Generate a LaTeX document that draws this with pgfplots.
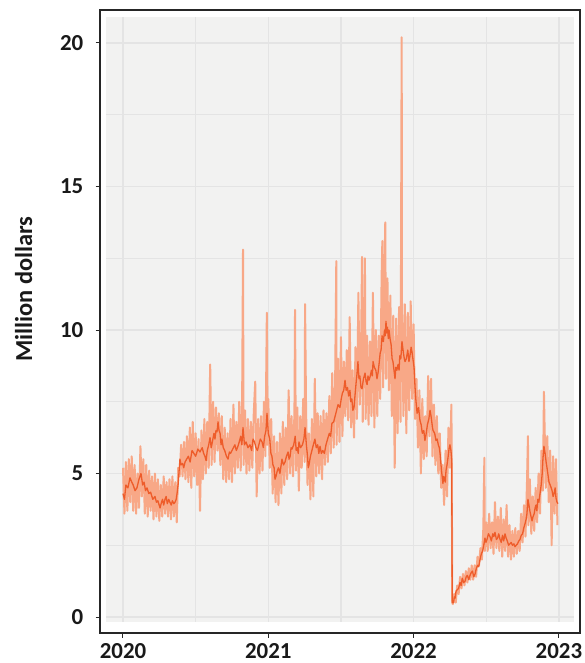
\documentclass[border=0pt]{standalone}
\usepackage{fontspec}
\setmainfont{Carlito}
\usepackage{pgfplots}
\pgfplotsset{compat=1.18}
\definecolor{band}{RGB}{248,168,135}
\definecolor{trend}{RGB}{238,92,42}
\definecolor{panel}{RGB}{242,242,241}
\definecolor{gridc}{RGB}{228,228,228}
\begin{document}
\begin{tikzpicture}
\begin{axis}[
 scale only axis, width=480bp, height=623bp,
 xmin=2019.8417, xmax=2023.1452, ymin=-0.557, ymax=21.15,
 axis line style={line width=1.1bp, black!85},
 tick align=outside, tick pos=left,
 major tick length=4.5bp,
 every tick/.style={black!85, line width=1bp},
 xtick={2020,2021,2022,2023}, xticklabels={2020,2021,2022,2023},
 ytick={0,5,10,15,20}, yticklabels={0,5,10,15,20},
 ticklabel style={font=\fontsize{23}{23}\selectfont\bfseries, text=black!90},
 xticklabel style={inner sep=0pt, yshift=-6bp},
 yticklabel style={inner sep=0pt, xshift=-12bp},
 ylabel={Million dollars},
 ylabel style={font=\fontsize{24.5}{24.5}\selectfont\bfseries, text=black!90, at={(axis description cs:-0.159,0.552)}, anchor=center},
]
\fill[panel] (axis cs:2019.883,-0.174) rectangle (axis cs:2023.104,20.906);
\pgfplotsinvokeforeach{0,2.5,5,7.5,10,12.5,15,17.5,20}{
 \draw[gridc, line width=1.2bp] (axis cs:2019.883,#1) -- (axis cs:2023.104,#1);}
\pgfplotsinvokeforeach{2020,2020.5,2021,2021.5,2022,2022.5,2023}{
 \draw[gridc, line width=1.2bp] (axis cs:#1,-0.174) -- (axis cs:#1,20.906);}
\addplot[band, line width=2bp, line join=round] coordinates {
(2020.00,5.2)(2020.01,3.6)(2020.02,5.4)(2020.03,3.7)(2020.04,5.5)(2020.05,4.0)(2020.06,5.6)(2020.07,3.7)(2020.08,5.3)(2020.09,3.6)
(2020.10,5.0)(2020.11,3.8)(2020.12,5.95)(2020.13,4.2)(2020.14,5.5)(2020.15,3.6)(2020.16,5.3)(2020.17,3.5)(2020.18,5.1)(2020.19,3.7)
(2020.20,4.9)(2020.21,3.4)(2020.22,5.0)(2020.23,3.5)(2020.24,4.8)(2020.25,3.35)(2020.26,4.6)(2020.27,3.5)(2020.28,4.9)(2020.29,3.6)
(2020.30,4.7)(2020.31,3.5)(2020.32,4.8)(2020.33,3.4)(2020.34,4.9)(2020.35,3.5)(2020.36,4.7)(2020.37,3.3)(2020.38,5.2)(2020.39,4.9)
(2020.40,6.0)(2020.41,4.9)(2020.42,6.1)(2020.43,4.8)(2020.44,6.3)(2020.45,4.7)(2020.46,6.6)(2020.47,4.5)(2020.48,6.8)(2020.49,4.9)
(2020.50,6.4)(2020.51,4.6)(2020.52,6.2)(2020.53,3.7)(2020.54,6.5)(2020.55,4.8)(2020.56,6.9)(2020.57,5.0)(2020.58,6.8)(2020.59,5.2)
(2020.60,8.8)(2020.61,5.3)(2020.62,7.5)(2020.63,5.4)(2020.64,7.3)(2020.65,5.8)(2020.66,7.1)(2020.67,5.3)(2020.68,7.0)(2020.69,4.8)
(2020.70,6.6)(2020.71,4.7)(2020.72,6.4)(2020.73,4.8)(2020.74,6.9)(2020.75,4.7)(2020.76,7.4)(2020.77,5.0)(2020.78,6.8)(2020.79,5.2)
(2020.80,7.5)(2020.81,5.1)(2020.82,7.6)(2020.826,12.8)(2020.83,5.3)(2020.84,7.2)(2020.85,5.0)(2020.86,6.9)(2020.87,5.1)(2020.88,6.8)(2020.89,5.2)
(2020.90,7.1)(2020.91,8.2)(2020.92,4.2)(2020.93,6.9)(2020.94,5.0)(2020.95,7.0)(2020.96,5.1)(2020.97,7.5)(2020.98,5.6)(2020.99,10.6)(2020.995,6.0)
(2021.00,7.6)(2021.01,5.2)(2021.02,6.9)(2021.03,4.3)(2021.04,6.3)(2021.05,4.0)(2021.06,6.1)(2021.07,3.9)(2021.08,6.4)(2021.09,4.3)
(2021.10,6.8)(2021.11,4.6)(2021.12,6.6)(2021.13,4.8)(2021.14,7.9)(2021.15,5.0)(2021.16,7.0)(2021.17,4.9)(2021.18,7.2)(2021.184,10.7)(2021.19,5.1)
(2021.20,7.3)(2021.21,4.4)(2021.22,7.0)(2021.23,5.2)(2021.24,7.6)(2021.25,5.4)(2021.253,10.9)(2021.26,7.2)(2021.27,4.6)(2021.28,6.4)(2021.29,4.1)
(2021.30,6.9)(2021.31,4.2)(2021.32,8.3)(2021.33,4.9)(2021.34,7.1)(2021.35,5.0)(2021.36,7.0)(2021.37,4.8)(2021.38,7.2)(2021.39,5.3)
(2021.40,7.1)(2021.41,5.4)(2021.42,7.7)(2021.43,5.7)(2021.44,8.5)(2021.45,5.9)(2021.46,8.2)(2021.468,12.4)(2021.47,6.0)(2021.48,9.0)(2021.49,6.1)
(2021.50,9.75)(2021.51,6.3)(2021.52,8.9)(2021.53,7.0)(2021.54,9.3)(2021.55,6.85)(2021.56,10.45)(2021.57,6.6)(2021.58,8.6)(2021.59,6.25)
(2021.60,9.4)(2021.61,6.9)(2021.62,11.3)(2021.63,7.4)(2021.64,10.0)(2021.645,12.55)(2021.65,6.8)(2021.66,10.2)(2021.665,12.5)(2021.67,6.9)(2021.68,9.8)(2021.69,6.7)
(2021.70,9.6)(2021.71,7.0)(2021.72,11.3)(2021.73,6.6)(2021.74,10.0)(2021.75,7.0)(2021.76,9.8)(2021.77,7.6)(2021.78,11.9)(2021.785,13.1)(2021.79,8.0)
(2021.80,12.2)(2021.805,13.75)(2021.81,8.3)(2021.82,11.8)(2021.83,7.9)(2021.84,11.2)(2021.85,7.0)(2021.86,10.5)(2021.87,5.2)(2021.88,10.4)(2021.89,6.4)
(2021.90,10.8)(2021.91,6.8)(2021.918,20.2)(2021.92,11.0)(2021.93,7.0)(2021.94,10.9)(2021.95,6.4)(2021.96,10.6)(2021.97,7.2)(2021.98,11.0)(2021.99,7.6)
(2022.00,10.2)(2022.01,6.9)(2022.02,8.3)(2022.03,5.9)(2022.04,7.9)(2022.05,5.0)(2022.06,7.6)(2022.07,5.5)(2022.08,7.0)(2022.09,5.6)
(2022.10,8.4)(2022.11,6.3)(2022.12,8.3)(2022.13,5.6)(2022.14,7.4)(2022.15,5.3)(2022.16,7.0)(2022.17,5.0)(2022.18,6.4)(2022.19,4.5)
(2022.20,5.3)(2022.21,3.9)(2022.22,5.8)(2022.23,4.2)(2022.24,6.6)(2022.25,5.2)(2022.26,7.4)(2022.263,5.0)(2022.266,0.5)(2022.27,0.45)(2022.28,0.8)(2022.29,0.5)
(2022.30,1.1)(2022.31,0.8)(2022.32,1.4)(2022.33,1.0)(2022.34,1.5)(2022.35,1.1)(2022.36,1.6)(2022.37,1.2)(2022.38,1.7)(2022.39,1.3)
(2022.40,1.8)(2022.41,1.3)(2022.42,1.8)(2022.43,1.4)(2022.44,2.1)(2022.45,1.8)(2022.46,2.4)(2022.47,2.0)(2022.48,3.1)(2022.487,5.55)(2022.49,2.3)
(2022.50,3.3)(2022.51,2.3)(2022.52,3.6)(2022.53,2.4)(2022.54,3.3)(2022.55,2.2)(2022.56,4.0)(2022.57,2.4)(2022.58,3.5)(2022.59,2.3)
(2022.60,3.8)(2022.61,2.1)(2022.62,3.4)(2022.63,2.3)(2022.64,3.9)(2022.65,2.1)(2022.66,3.2)(2022.67,2.0)(2022.68,3.0)(2022.69,2.1)
(2022.70,3.1)(2022.71,2.2)(2022.72,3.0)(2022.73,2.3)(2022.74,3.6)(2022.75,2.6)(2022.76,3.9)(2022.77,2.8)(2022.78,4.6)(2022.787,6.3)(2022.79,3.2)
(2022.80,4.8)(2022.81,2.9)(2022.82,4.2)(2022.83,3.0)(2022.84,4.5)(2022.85,3.3)(2022.86,5.0)(2022.87,3.6)(2022.88,5.8)(2022.89,4.4)
(2022.897,7.85)(2022.90,7.0)(2022.91,4.5)(2022.92,6.3)(2022.93,4.0)(2022.94,5.8)(2022.95,2.5)(2022.96,5.6)(2022.97,3.6)(2022.98,5.5)(2022.99,3.2)
};
\addplot[trend, line width=1.3bp, line join=round] coordinates {
(2020.000,4.3)(2020.010,4.1)(2020.020,4.6)(2020.034,4.5)(2020.048,4.85)(2020.060,4.7)(2020.070,4.6)(2020.083,4.4)(2020.096,4.5)(2020.110,4.8)(2020.124,5.0)
(2020.135,4.6)(2020.145,4.7)(2020.155,4.4)(2020.165,4.5)(2020.178,4.3)(2020.190,4.35)(2020.205,4.1)(2020.220,4.2)(2020.230,4.0)
(2020.240,4.05)(2020.255,3.8)(2020.265,4.0)(2020.272,4.1)(2020.280,3.9)(2020.289,4.1)(2020.297,4.2)(2020.305,3.95)(2020.315,4.1)(2020.323,4.0)(2020.332,3.9)(2020.340,4.05)(2020.350,3.95)(2020.358,4.0)(2020.366,4.1)(2020.372,4.3)(2020.379,4.6)
(2020.392,5.5)(2020.400,5.3)(2020.410,5.35)(2020.418,5.2)(2020.427,5.4)(2020.438,5.5)(2020.450,5.6)(2020.462,5.4)(2020.475,5.8)(2020.488,5.7)(2020.500,5.6)(2020.515,5.85)(2020.530,5.75)(2020.545,5.9)(2020.555,5.7)(2020.564,5.6)(2020.572,5.45)(2020.580,5.8)
(2020.590,6.0)(2020.599,6.25)(2020.607,5.9)(2020.615,6.1)(2020.626,6.4)(2020.633,6.2)(2020.640,6.5)(2020.647,6.45)(2020.654,6.8)(2020.661,6.5)(2020.668,6.4)(2020.675,6.0)(2020.681,6.2)(2020.690,5.9)(2020.700,5.8)(2020.712,5.6)(2020.723,5.5)(2020.732,5.75)(2020.740,5.7)
(2020.750,5.8)(2020.760,5.9)(2020.770,6.0)(2020.780,5.8)(2020.791,5.95)(2020.800,6.1)(2020.810,6.3)(2020.818,6.0)(2020.826,6.6)(2020.836,6.0)(2020.847,6.1)(2020.860,5.9)(2020.874,6.0)(2020.885,5.8)(2020.895,6.2)(2020.905,6.1)(2020.915,5.9)(2020.925,5.8)(2020.935,6.0)(2020.945,6.2)
(2020.957,6.1)(2020.966,5.9)(2020.975,6.3)(2020.984,6.5)(2020.991,7.1)(2021.000,6.4)(2021.010,6.2)(2021.018,5.7)(2021.025,5.6)(2021.032,5.3)(2021.040,5.2)(2021.046,4.8)(2021.053,4.9)(2021.062,5.1)(2021.070,5.2)(2021.080,5.0)(2021.094,5.5)(2021.105,5.3)(2021.115,5.4)(2021.125,5.6)
(2021.136,5.75)(2021.143,5.5)(2021.150,5.6)(2021.157,5.9)(2021.163,5.85)(2021.175,6.0)(2021.185,6.3)(2021.192,5.8)(2021.200,5.9)(2021.206,5.7)(2021.211,6.1)(2021.222,5.9)(2021.235,6.0)(2021.245,6.2)(2021.253,6.6)(2021.262,6.0)(2021.270,5.6)(2021.275,5.2)(2021.280,5.3)
(2021.290,5.6)(2021.300,5.8)(2021.310,6.0)(2021.321,6.2)(2021.330,5.9)(2021.340,6.0)(2021.348,5.7)(2021.356,5.95)(2021.365,5.7)(2021.375,5.8)(2021.386,5.7)(2021.397,6.0)(2021.408,6.2)(2021.420,6.4)(2021.429,6.3)(2021.438,6.75)(2021.450,6.8)(2021.460,7.0)(2021.470,7.2)(2021.480,7.4)
(2021.493,7.3)(2021.502,7.6)(2021.510,7.8)(2021.519,7.9)(2021.528,8.25)(2021.536,7.9)(2021.545,8.0)(2021.553,7.7)(2021.562,7.9)(2021.568,7.5)(2021.575,7.6)(2021.582,7.2)(2021.590,7.3)(2021.598,7.8)(2021.605,8.2)(2021.611,8.5)(2021.617,8.9)(2021.624,8.3)(2021.630,8.4)(2021.638,8.0)
(2021.645,7.95)(2021.655,8.3)(2021.666,8.5)(2021.673,8.2)(2021.680,8.1)(2021.686,8.4)(2021.693,8.25)(2021.702,8.4)(2021.710,8.6)(2021.716,8.4)(2021.721,8.9)(2021.730,8.7)(2021.740,8.6)(2021.748,8.3)(2021.755,8.5)(2021.762,8.8)(2021.770,9.2)(2021.776,9.3)(2021.783,9.8)
(2021.792,9.6)(2021.800,10.0)(2021.805,9.8)(2021.810,10.3)(2021.815,9.9)(2021.820,10.1)(2021.826,9.7)(2021.831,10.0)(2021.838,9.7)(2021.845,9.5)(2021.852,9.0)(2021.858,8.9)(2021.865,8.6)(2021.872,8.3)(2021.878,8.7)(2021.885,8.6)(2021.893,8.8)(2021.900,8.6)(2021.905,9.1)(2021.912,9.0)
(2021.920,9.6)(2021.925,9.4)(2021.930,9.2)(2021.936,9.0)(2021.941,8.9)(2021.950,9.0)(2021.960,9.3)(2021.968,8.9)(2021.975,9.1)(2021.983,9.4)(2021.990,9.2)(2022.003,8.7)(2022.010,8.0)(2022.015,7.6)(2022.024,7.1)(2022.034,7.3)(2022.044,6.85)
(2022.052,6.7)(2022.060,6.4)(2022.070,6.5)(2022.078,6.15)(2022.087,6.4)(2022.095,6.7)(2022.105,6.9)(2022.113,7.2)(2022.120,7.0)(2022.125,6.8)(2022.130,6.6)(2022.134,6.5)(2022.145,6.4)(2022.154,6.15)(2022.162,6.2)(2022.170,6.0)(2022.177,5.9)(2022.182,5.7)(2022.192,5.1)
(2022.202,4.65)(2022.207,4.9)(2022.212,4.8)(2022.218,4.7)(2022.223,5.1)(2022.230,5.3)(2022.238,5.6)(2022.245,5.9)(2022.250,6.0)(2022.257,5.8)(2022.262,5.5)(2022.266,0.5)(2022.275,0.5)(2022.280,0.7)(2022.285,0.65)(2022.292,0.9)(2022.300,0.95)(2022.310,1.0)
(2022.319,1.2)(2022.327,1.1)(2022.335,1.35)(2022.345,1.2)(2022.354,1.25)(2022.362,1.4)(2022.370,1.45)(2022.380,1.3)(2022.388,1.45)(2022.397,1.55)(2022.405,1.6)(2022.414,1.4)(2022.423,1.5)(2022.432,1.7)(2022.440,1.8)(2022.448,1.75)(2022.457,2.0)(2022.466,2.2)(2022.475,2.3)(2022.483,2.5)
(2022.491,2.75)(2022.498,2.6)(2022.505,2.7)(2022.515,2.9)(2022.526,2.8)(2022.535,2.65)(2022.545,2.9)(2022.552,2.8)(2022.560,2.95)(2022.570,2.7)(2022.578,2.75)(2022.586,2.9)(2022.595,2.7)(2022.603,2.6)(2022.612,2.85)(2022.620,2.65)(2022.629,2.9)(2022.637,2.75)(2022.645,2.65)(2022.654,2.5)
(2022.663,2.55)(2022.672,2.6)(2022.680,2.5)(2022.690,2.55)(2022.698,2.45)(2022.706,2.5)(2022.715,2.55)(2022.724,2.65)(2022.732,2.7)(2022.741,2.85)(2022.750,2.9)(2022.758,3.1)(2022.767,3.25)(2022.774,3.4)(2022.780,3.6)(2022.787,4.1)(2022.794,3.9)(2022.800,3.7)
(2022.808,3.5)(2022.815,3.35)(2022.822,3.5)(2022.830,3.6)(2022.836,3.8)(2022.842,3.9)(2022.848,3.7)(2022.855,4.1)(2022.862,4.0)(2022.870,4.3)(2022.878,4.6)(2022.885,5.0)(2022.890,5.5)(2022.897,5.95)(2022.905,5.7)(2022.912,5.4)(2022.918,5.2)(2022.925,4.95)(2022.932,4.7)(2022.940,4.6)
(2022.947,4.5)(2022.953,4.4)(2022.960,4.2)(2022.967,4.3)(2022.974,4.5)(2022.980,4.15)(2022.987,4.0)(2022.994,3.95)
};
\end{axis}
\pgfresetboundingbox
\path ([shift={(-100bp,-30bp)}]current axis.south west) rectangle ([shift={(5bp,10bp)}]current axis.north east);
\end{tikzpicture}
\end{document}
